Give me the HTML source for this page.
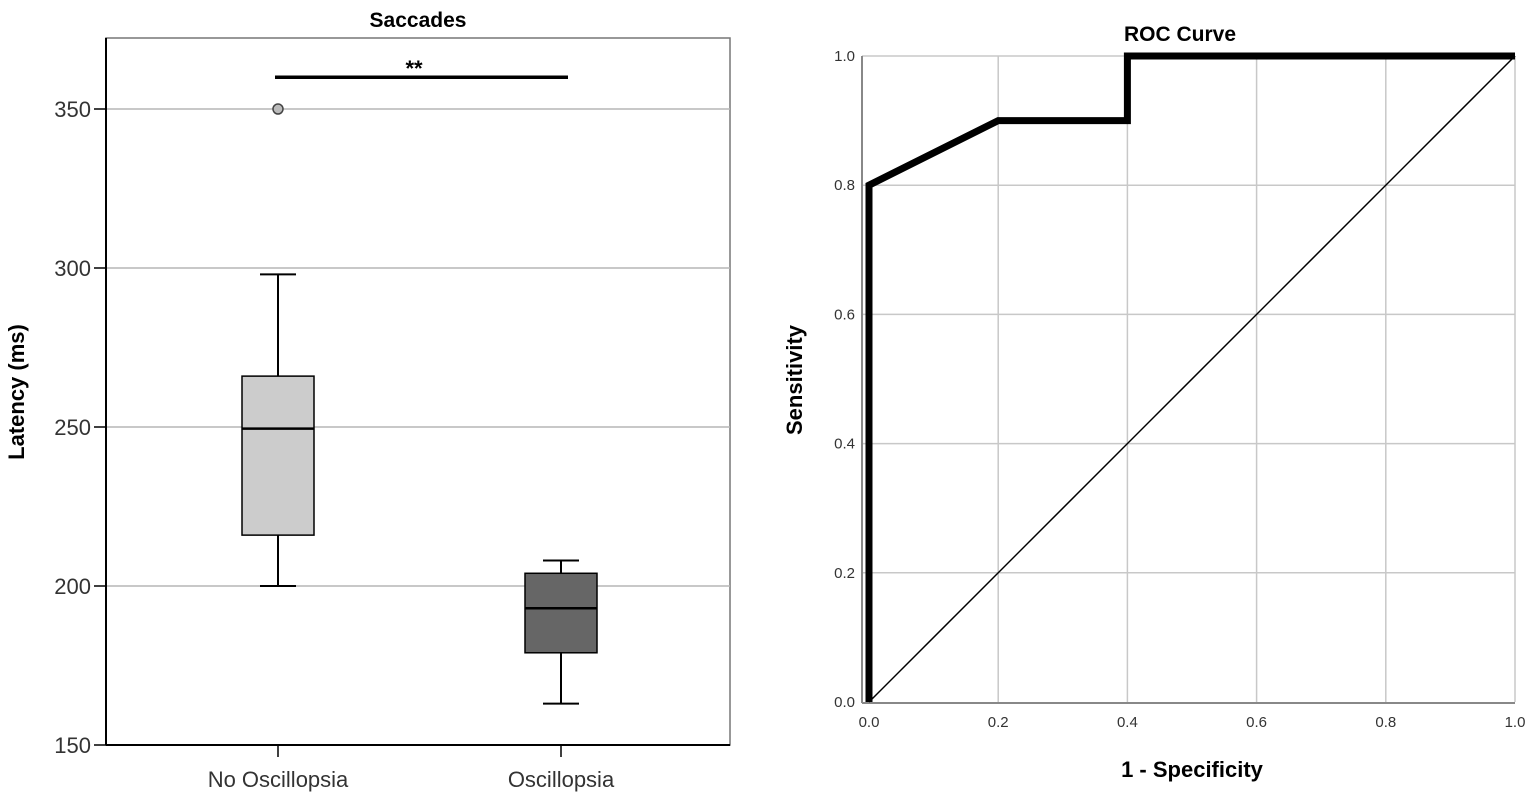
<!DOCTYPE html>
<html><head><meta charset="utf-8"><style>
html,body{margin:0;padding:0;background:#fff;}
svg{display:block;font-family:"Liberation Sans",Arial,sans-serif;}
</style></head><body>
<svg id="svg" width="1535" height="802" viewBox="0 0 1535 802">
<g id="left"></g>
<g id="right"></g>
</svg>
<script>
// Box plot data
const groups = ["No Oscillopsia","Oscillopsia"];
const boxMin = [200,163];
const boxQ1 = [216,179];
const boxMed = [249.5,193];
const boxQ3 = [266,204];
const boxMax = [298,208];
const outlierVals = [350];
const outlierGroup = [0];
const yTicks = [150,200,250,300,350];
const sigValue = 360;
const boxFills = ["#cccccc","#666666"];
// ROC data
const rocX = [0,0,0.2,0.4,0.4,1.0];
const rocY = [0,0.8,0.9,0.9,1.0,1.0];
const rocTicks = [0,0.2,0.4,0.6,0.8,1.0];

const NS="http://www.w3.org/2000/svg";
function mk(parent,tag,attrs,text){const e=document.createElementNS(NS,tag);for(const k in attrs)e.setAttribute(k,attrs[k]);if(text!==undefined)e.textContent=text;parent.appendChild(e);return e;}

// Left chart
const L=document.getElementById('left');
const lx0=106,lx1=730,ly0=745,ly1=38;
const yS=v=>745-(v-150)*(159/50);
const xC=i=>[278,561][i];
mk(L,'rect',{x:lx0,y:ly1,width:lx1-lx0,height:ly0-ly1,fill:'#fff',stroke:'#777','stroke-width':1.5});
yTicks.forEach(t=>{
  const y=yS(t);
  if(t>150){const g=mk(L,'line',{x1:lx0,x2:lx1,y1:y,y2:y,stroke:'#b5b5b5','stroke-width':1.5});}
  const tk=mk(L,'line',{x1:lx0-12,x2:lx0,y1:y,y2:y,stroke:'#000','stroke-width':1.5});
  const tl=mk(L,'text',{x:lx0-15,y:y+8,'text-anchor':'end','font-size':22,fill:'#333'},String(t));
});
mk(L,'line',{x1:lx0,x2:lx0,y1:ly1,y2:ly0,stroke:'#000','stroke-width':2});
mk(L,'line',{x1:lx0,x2:lx1,y1:ly0,y2:ly0,stroke:'#000','stroke-width':2});
groups.forEach((g,i)=>{
  const cx=xC(i);
  const w=mk(L,'line',{x1:cx,x2:cx,y1:yS(boxMax[i]),y2:yS(boxMin[i]),stroke:'#000','stroke-width':2});
  [boxMax[i],boxMin[i]].forEach(v=>{const c=mk(L,'line',{x1:cx-18,x2:cx+18,y1:yS(v),y2:yS(v),stroke:'#000','stroke-width':2});});
  const b=mk(L,'rect',{x:cx-36,y:yS(boxQ3[i]),width:72,height:yS(boxQ1[i])-yS(boxQ3[i]),fill:boxFills[i],stroke:'#000','stroke-width':1.5});
  const m=mk(L,'line',{x1:cx-36,x2:cx+36,y1:yS(boxMed[i]),y2:yS(boxMed[i]),stroke:'#000','stroke-width':2.5});
  const t=mk(L,'line',{x1:cx,x2:cx,y1:ly0,y2:ly0+12,stroke:'#000','stroke-width':1.5});
  const tl=mk(L,'text',{x:cx,y:787,'text-anchor':'middle','font-size':22,fill:'#333'},g);
});
outlierVals.forEach((v,j)=>{const o=mk(L,'circle',{cx:xC(outlierGroup[j]),cy:yS(v),r:5,fill:'#bbb',stroke:'#444','stroke-width':1.5});});
const sb=mk(L,'line',{x1:275,x2:568,y1:yS(sigValue),y2:yS(sigValue),stroke:'#000','stroke-width':3.5});
const st=mk(L,'text',{x:414,y:yS(sigValue)-1,'text-anchor':'middle','font-size':22,'font-weight':'bold'},'**');
const t1=mk(L,'text',{x:418,y:27,'text-anchor':'middle','font-size':21,'font-weight':'bold'},'Saccades');
const ya=mk(L,'text',{x:0,y:0,'text-anchor':'middle','font-size':22,'font-weight':'bold',transform:'translate(24,392) rotate(-90)'},'Latency (ms)');

// Right chart
const R=document.getElementById('right');
const rx=v=>869+v*646, ry=v=>702-v*646;
rocTicks.forEach(t=>{
  if(t>0){
    const gv=mk(R,'line',{x1:rx(t),x2:rx(t),y1:ry(0),y2:ry(1),stroke:'#c8c8c8','stroke-width':1.5});
    const gh=mk(R,'line',{x1:862,x2:rx(1),y1:ry(t),y2:ry(t),stroke:'#c8c8c8','stroke-width':1.5});
  }
  const xl=mk(R,'text',{x:rx(t),y:727,'text-anchor':'middle','font-size':15,fill:'#333'},t.toFixed(1));
  const yl=mk(R,'text',{x:855,y:ry(t)+5,'text-anchor':'end','font-size':15,fill:'#333'},t.toFixed(1));
});
mk(R,'line',{x1:862,x2:862,y1:ry(1),y2:703,stroke:'#888','stroke-width':2});
mk(R,'line',{x1:862,x2:rx(1),y1:703,y2:703,stroke:'#888','stroke-width':2});
const dg=mk(R,'line',{x1:rx(0),y1:ry(0),x2:rx(1),y2:ry(1),stroke:'#000','stroke-width':1.5});
const rc=mk(R,'polyline',{points:rocX.map((x,i)=>rx(x)+','+ry(rocY[i])).join(' '),fill:'none',stroke:'#000','stroke-width':7,'stroke-linejoin':'miter'});
const t2=mk(R,'text',{x:1180,y:41,'text-anchor':'middle','font-size':21,'font-weight':'bold'},'ROC Curve');
const xa=mk(R,'text',{x:1192,y:777,'text-anchor':'middle','font-size':22,'font-weight':'bold'},'1 - Specificity');
const ya2=mk(R,'text',{x:0,y:0,'text-anchor':'middle','font-size':22,'font-weight':'bold',transform:'translate(802,380) rotate(-90)'},'Sensitivity');
</script>
</body></html>
